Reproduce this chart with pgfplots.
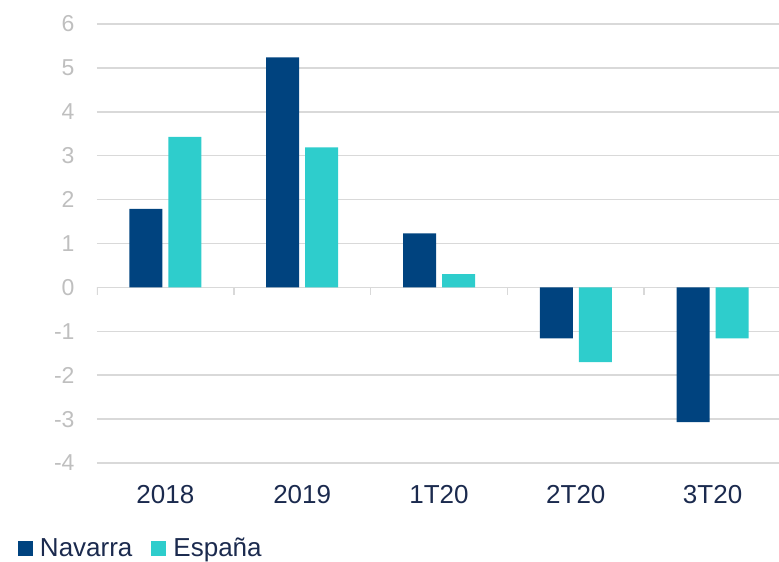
\documentclass[border=0pt]{standalone}
\usepackage{pgfplots}
\pgfplotsset{compat=1.18}
\usepackage{fontspec}
\setmainfont{Liberation Sans}
\definecolor{navarra}{HTML}{00437F}
\definecolor{espana}{HTML}{2ECDCC}
\definecolor{gridc}{HTML}{D9D9D9}
\definecolor{ylab}{HTML}{BFBFBF}
\definecolor{xlab}{HTML}{1B2A4E}
\begin{document}
\begin{tikzpicture}[x=1pt,y=1pt]
\begin{axis}[
  at={(0pt,0pt)}, anchor=south west,
  scale only axis, width=684pt, height=439pt,
  xmin=-0.5, xmax=4.5, ymin=-4, ymax=6,
  xtick={0,1,2,3,4},
  xticklabels={2018,2019,1T20,2T20,3T20},
  ytick={-4,-3,...,6},
  /pgf/number format/assume math mode=true,
  axis line style={draw=none},
  major tick length=0pt,
  ymajorgrids,
  grid style={draw=gridc, line width=1.5pt},
  yticklabel style={font=\fontsize{23}{27}\selectfont, text=ylab, anchor=east, xshift=-19pt},
  xticklabel style={font=\fontsize{26}{31}\selectfont, text=xlab, anchor=center, yshift=-32pt},
  ybar, bar width=33pt, ybar=6pt,
  legend columns=2,
  legend style={at={(-79pt,-85pt)}, anchor=west, draw=none, fill=none, inner sep=0pt, outer sep=0pt,
    font=\fontsize{26}{31}\selectfont, text=xlab,
    nodes={inner sep=0pt},
    /tikz/every odd column/.style={column sep=7pt},
    /tikz/every even column/.style={column sep=19pt}},
  legend image code/.code={\fill[#1] (0pt,-7.5pt) rectangle (15pt,7.5pt);},
]
\addplot[fill=navarra, draw=none] coordinates {(0,1.79) (1,5.24) (2,1.23) (3,-1.16) (4,-3.07)};
\addlegendentry{Navarra}
\addplot[fill=espana, draw=none] coordinates {(0,3.43) (1,3.19) (2,0.30) (3,-1.70) (4,-1.16)};
\addlegendentry{España}
\foreach \xx in {-0.5,0.5,1.5,2.5,3.5} {
  \edef\tmp{\noexpand\draw[gridc, line width=1.5pt] (axis cs:\xx,0) -- ([yshift=-8pt]axis cs:\xx,0);}
  \tmp
}
\end{axis}
\pgfresetboundingbox
\useasboundingbox (-97,-99) rectangle (682,463);
\end{tikzpicture}
\end{document}
